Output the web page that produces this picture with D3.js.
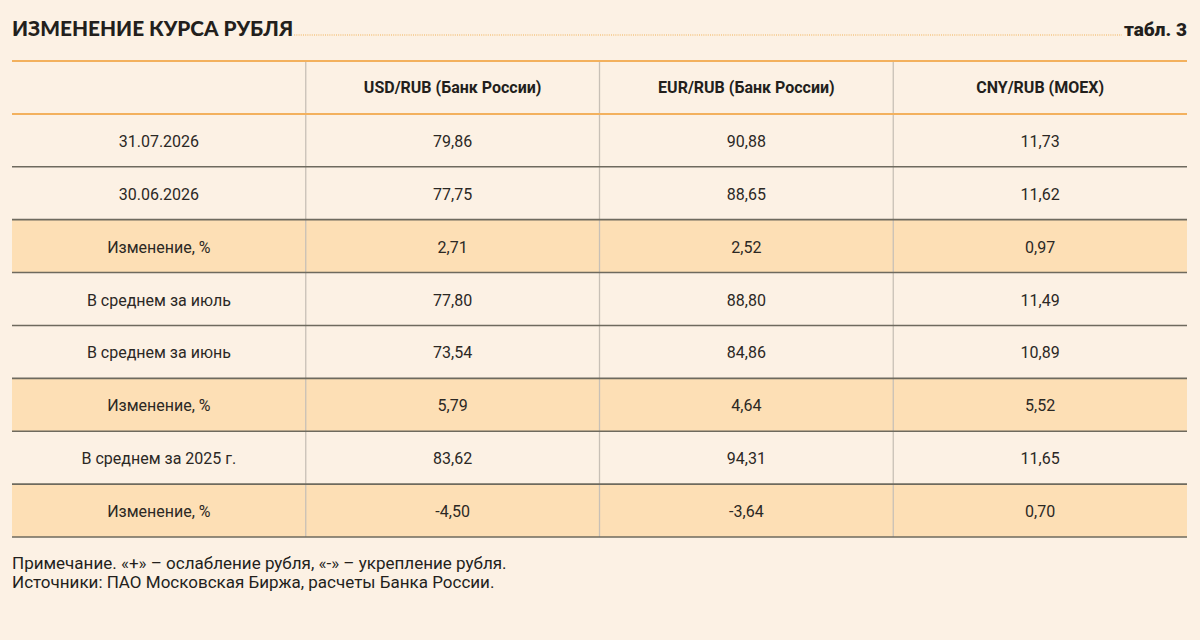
<!DOCTYPE html>
<html>
<head>
<meta charset="utf-8">
<script src="https://cdn.jsdelivr.net/npm/d3@7"></script>
<style>
  html, body { margin: 0; padding: 0; background: #fcf1e4; }
  svg { display: block; }
</style>
</head>
<body>
<svg id="chart" width="1200" height="640"></svg>
<script>
// table content
const columns = ["", "USD/RUB (Банк России)", "EUR/RUB (Банк России)", "CNY/RUB (MOEX)"];
const rowLabels = ["31.07.2026", "30.06.2026", "Изменение, %", "В среднем за июль", "В среднем за июнь",
                   "Изменение, %", "В среднем за 2025 г.", "Изменение, %"];
const usdRub = ["79,86", "77,75", "2,71", "77,80", "73,54", "5,79", "83,62", "-4,50"];
const eurRub = ["90,88", "88,65", "2,52", "88,80", "84,86", "4,64", "94,31", "-3,64"];
const cnyRub = ["11,73", "11,62", "0,97", "11,49", "10,89", "5,52", "11,65", "0,70"];
const highlighted = [false, false, true, false, false, true, false, true];
const notes = ["Примечание. «+» – ослабление рубля, «-» – укрепление рубля.",
               "Источники: ПАО Московская Биржа, расчеты Банка России."];

const svg = d3.select("#chart");
const left = 12, right = 1187;
const bodyFont = "Roboto, 'Liberation Sans', sans-serif";

const x = d3.scaleBand().domain(d3.range(columns.length)).range([left, right]);
const y = d3.scaleBand().domain(d3.range(rowLabels.length + 1)).range([61, 537]);

// title
const title = svg.append("text")
    .attr("x", left).attr("y", 36)
    .attr("font-family", "Lato, 'DejaVu Sans', sans-serif")
    .attr("font-weight", 900).attr("font-size", 20.8)
    .attr("fill", "#231f1c")
    .text("ИЗМЕНЕНИЕ КУРСА РУБЛЯ");
const tab = svg.append("text")
    .attr("x", right).attr("y", 36).attr("text-anchor", "end")
    .attr("font-family", "Roboto, sans-serif")
    .attr("font-weight", 900).attr("font-size", 19)
    .attr("fill", "#231f1c")
    .text("табл. 3");
const tEnd = left + title.node().getComputedTextLength() + 1;
const tabStart = right - tab.node().getComputedTextLength() - 2;
svg.append("line")
    .attr("x1", tEnd).attr("x2", tabStart).attr("y1", 35).attr("y2", 35)
    .attr("stroke", "#f0b054").attr("stroke-width", 1.2).attr("stroke-dasharray", "1,1.2");

// row data
const rows = rowLabels.map((l, i) => ({label: l, vals: [l, usdRub[i], eurRub[i], cnyRub[i]], hl: highlighted[i]}));

// highlighted backgrounds
svg.append("g").selectAll("rect")
  .data(rows.filter(r => r.hl))
  .join("rect")
    .attr("x", left).attr("width", right - left)
    .attr("y", d => y(rows.indexOf(d) + 1)).attr("height", y.bandwidth())
    .attr("fill", "#fddfb5");

// vertical dividers
svg.append("g").selectAll("line")
  .data(d3.range(1, columns.length))
  .join("line")
    .attr("x1", d => x(d)).attr("x2", d => x(d))
    .attr("y1", y(0)).attr("y2", y(rows.length) + y.bandwidth())
    .attr("stroke", "#c8c0b6").attr("stroke-width", 1.3);

// horizontal lines
const hlines = d3.range(0, rows.length + 2);
svg.append("g").selectAll("line")
  .data(hlines)
  .join("line")
    .attr("x1", left).attr("x2", right)
    .attr("y1", d => d <= rows.length ? y(d) : y(rows.length) + y.bandwidth())
    .attr("y2", d => d <= rows.length ? y(d) : y(rows.length) + y.bandwidth())
    .attr("stroke", d => d <= 1 ? "#f3b15e" : "#6e6a5e")
    .attr("stroke-width", d => d <= 1 ? 2 : 1.6);

// header
svg.append("g").selectAll("text")
  .data(columns)
  .join("text")
    .attr("x", (d, i) => x(i) + x.bandwidth() / 2)
    .attr("y", y(0) + y.bandwidth() / 2 + 6)
    .attr("text-anchor", "middle")
    .attr("font-family", bodyFont).attr("font-weight", 700).attr("font-size", 16)
    .attr("fill", "#231f1c")
    .text(d => d);

// body cells
const rowG = svg.append("g").selectAll("g")
  .data(rows)
  .join("g")
    .attr("transform", (d, i) => `translate(0,${y(i + 1) + y.bandwidth() / 2 + 6.5})`);
rowG.selectAll("text")
  .data(d => d.vals)
  .join("text")
    .attr("x", (d, i) => x(i) + x.bandwidth() / 2)
    .attr("text-anchor", "middle")
    .attr("font-family", bodyFont).attr("font-size", 16)
    .attr("fill", "#2b2824")
    .text(d => d);

// notes
svg.append("g").selectAll("text")
  .data(notes)
  .join("text")
    .attr("x", left).attr("y", (d, i) => 569 + i * 19)
    .attr("font-family", bodyFont).attr("font-size", 17)
    .attr("fill", "#231f1c")
    .text(d => d);
</script>
</body>
</html>
